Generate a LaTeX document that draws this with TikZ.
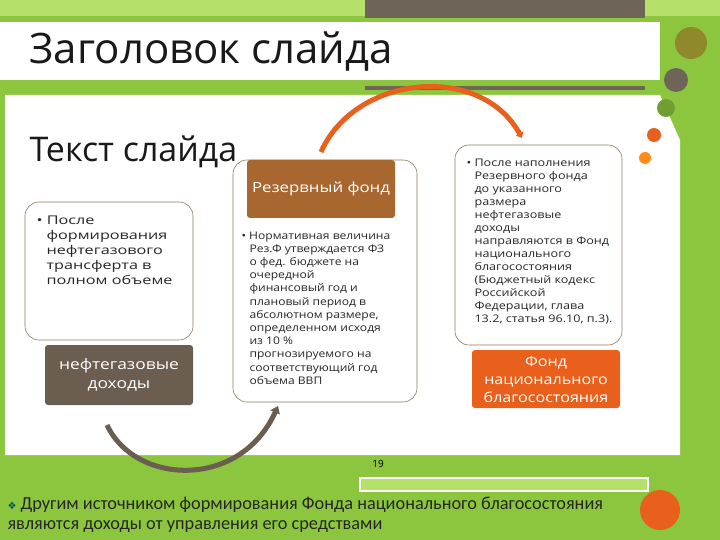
\documentclass[tikz,border=0pt]{standalone}
\usepackage{fontspec}
\setmainfont{Open Sans}
\newfontfamily\dvs{DejaVu Sans}
\newfontfamily\bodyf{Carlito}
\usetikzlibrary{arrows.meta}
\definecolor{bggreen}{HTML}{8CC63F}
\definecolor{lgreen}{HTML}{B5E06A}
\definecolor{gbar}{HTML}{6E6558}
\definecolor{brownh}{HTML}{A8672F}
\definecolor{darkb}{HTML}{6B5D50}
\definecolor{orangeb}{HTML}{E8601C}
\definecolor{boxline}{HTML}{8A7A5A}
\tikzset{
 wbox/.style={draw=boxline, fill=white, rounded corners=14pt, line width=0.6pt},
 hbox/.style={rounded corners=3pt, text=white, align=center},
 btxt/.style={anchor=north west, align=left, text=black!85},
 ball/.style={circle, inner sep=0pt}
}
\begin{document}
\begin{tikzpicture}[x=1pt,y=-1pt]
\useasboundingbox (0,0) rectangle (720,540);
\fill[bggreen] (0,0) rectangle (720,540);
\fill[lgreen] (0,0) rectangle (720,16);
\fill[gbar] (365,0) rectangle (645,18);
\fill[white] (0,22) rectangle (660,80);
\fill[gbar] (365,86) rectangle (645,90);
\fill[white] (5,95) -- (660,95) -- (680,140) -- (680,455) -- (5,455) -- cycle;
\draw[white, fill=lgreen, line width=1.5pt] (360,478) rectangle (648,491);
% balls
\node[ball, fill=olive!70!gray, minimum size=32pt] (b1) at (691,43) {};
\node[ball, fill=gbar, minimum size=24pt] (b2) at (676,80) {};
\node[ball, fill=bggreen!80!black, minimum size=18pt] (b3) at (666,108) {};
\node[ball, fill=orangeb, minimum size=14pt] (b4) at (654,135) {};
\node[ball, fill=orange!90, minimum size=12pt] (b5) at (645,158) {};
\node[ball, fill=orangeb, minimum size=40pt] (b6) at (660,510) {};
% titles
\node[anchor=west, font=\fontsize{42}{44}\selectfont, text=black!90] (title) at (26,52) {Заголовок слайда};
\node[anchor=west, font=\fontsize{34}{36}\selectfont, text=black!90] (sub) at (26,152) {Текст слайда};
% boxes
\draw[wbox] (25,202) rectangle (193,340);
\node[btxt, font=\fontsize{12}{15}\selectfont\addfontfeature{FakeStretch=1.35}] (t1) at (33,212) {• После\\\hspace*{10pt}формирования\\\hspace*{10pt}нефтегазового\\\hspace*{10pt}трансферта в\\\hspace*{10pt}полном объеме};
\node[hbox, fill=darkb, minimum width=148pt, minimum height=60pt, font=\fontsize{14.5}{19}\selectfont\addfontfeature{FakeStretch=1.2}] (nd) at (119,375) {нефтегазовые\\доходы};
\draw[wbox] (233,160) rectangle (417,402);
\node[hbox, fill=brownh, minimum width=148pt, minimum height=58pt, font=\fontsize{14}{16}\selectfont\addfontfeature{FakeStretch=1.2}] (rf) at (321,189) {Резервный фонд};
\node[btxt, font=\fontsize{10.5}{13.2}\selectfont\addfontfeature{FakeStretch=1.15}] (t2) at (238,228) {• Нормативная величина\\\hspace*{8pt}Рез.Ф утверждается ФЗ\\\hspace*{8pt}о фед. бюджете на\\\hspace*{8pt}очередной\\\hspace*{8pt}финансовый год и\\\hspace*{8pt}плановый период в\\\hspace*{8pt}абсолютном размере,\\\hspace*{8pt}определенном исходя\\\hspace*{8pt}из 10 \%\\\hspace*{8pt}прогнозируемого на\\\hspace*{8pt}соответствующий год\\\hspace*{8pt}объема ВВП};
\draw[wbox] (455,145) rectangle (622,345);
\node[btxt, font=\fontsize{10.5}{13}\selectfont\addfontfeature{FakeStretch=1.2}] (t3) at (463,155) {• После наполнения\\\hspace*{8pt}Резервного фонда\\\hspace*{8pt}до указанного\\\hspace*{8pt}размера\\\hspace*{8pt}нефтегазовые\\\hspace*{8pt}доходы\\\hspace*{8pt}направляются в Фонд\\\hspace*{8pt}национального\\\hspace*{8pt}благосостояния\\\hspace*{8pt}(Бюджетный кодекс\\\hspace*{8pt}Российской\\\hspace*{8pt}Федерации, глава\\\hspace*{8pt}13.2, статья 96.10, п.3).};
\node[hbox, fill=orangeb, minimum width=148pt, minimum height=58pt, font=\fontsize{14}{18}\selectfont\addfontfeature{FakeStretch=1.15}] (fnb) at (546,379) {Фонд\\национального\\благосостояния};
% arcs
\coordinate (oa) at (321,152);
\coordinate (ob) at (522,138);
\draw[orangeb, line width=5pt, -{Triangle[length=5pt,width=8pt]}] (oa) .. controls (355,75) and (480,62) .. (ob);
\coordinate (da) at (107,425);
\coordinate (db) at (278,406);
\draw[darkb, line width=5pt, -{Triangle[length=7pt,width=10pt]}] (da) .. controls (135,485) and (240,490) .. (db);
\node[font=\fontsize{10}{12}\selectfont] (pg) at (378,464) {19};
% bottom text
\node[anchor=west, font=\bodyf\fontsize{18.3}{20}\selectfont, text=black!85] (bt1) at (4,505) {{\dvs\color{teal!70!black}\normalsize ❖} Другим источником формирования Фонда национального благосостояния};
\node[anchor=west, font=\bodyf\fontsize{18.3}{20}\selectfont, text=black!85] (bt2) at (4,527) {являются доходы от управления его средствами};
\end{tikzpicture}
\end{document}
